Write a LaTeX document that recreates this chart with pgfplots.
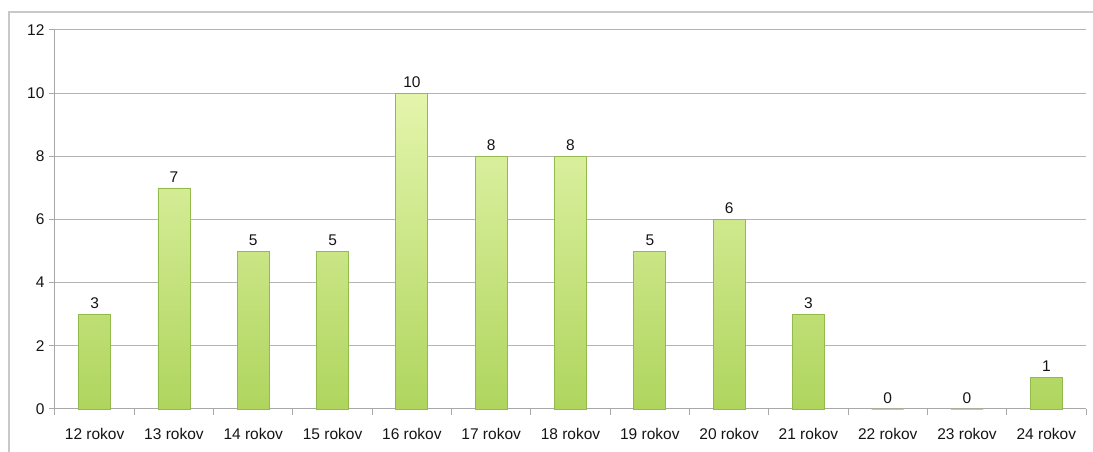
\documentclass[border=0pt]{standalone}
\usepackage{pgfplots}
\pgfplotsset{compat=1.18}
\usepackage{fontspec}
\setmainfont{Liberation Sans}
\definecolor{gridgray}{HTML}{B4B4B4}
\definecolor{axisgray}{HTML}{A8A8A8}
\definecolor{framegray}{HTML}{C8C8C8}
\definecolor{bartop}{HTML}{E4F5AC}
\definecolor{barbot}{HTML}{AFD55E}
\definecolor{baredge}{HTML}{93BA4C}
\definecolor{txt}{HTML}{141414}
\begin{document}
\begin{tikzpicture}
\begin{axis}[
  name=main,
  at={(0pt,0pt)}, anchor=south west,
  scale only axis, width=1031pt, height=379pt,
  xmin=-0.5, xmax=12.5, ymin=0, ymax=12,
  ytick={0,2,...,12},
  xtick={0,...,12},
  xticklabels={12 rokov,13 rokov,14 rokov,15 rokov,16 rokov,17 rokov,18 rokov,19 rokov,20 rokov,21 rokov,22 rokov,23 rokov,24 rokov},
  minor xtick={-0.5,0.5,...,12.5},
  axis x line*=bottom, axis y line*=left,
  axis line style={axisgray, line width=1pt},
  x axis line style={-}, y axis line style={-},
  ymajorgrids, grid style={gridgray, line width=1pt},
  major x tick style={draw=none},
  minor x tick style={axisgray, line width=1pt},
  major y tick style={axisgray, line width=1pt},
  tick align=outside,
  major tick length=6pt, minor tick length=6pt,
  ticklabel style={font=\fontsize{15.5}{18}\selectfont, text=txt},
  /pgf/number format/assume math mode=true,
  yticklabel style={xshift=-1pt},
  xticklabel style={yshift=-10pt},
  ybar, bar width=32pt,
  nodes near coords,
  nodes near coords style={font=\fontsize{15.5}{18}\selectfont, text=txt, yshift=2pt},
  clip=false,
]
\addplot[draw=baredge, line width=0.8pt, top color=bartop, bottom color=barbot]
  coordinates {(0,3) (1,7) (2,5) (3,5) (4,10) (5,8) (6,8) (7,5) (8,6) (9,3) (10,0) (11,0) (12,1)};
\end{axis}
% outer chart frame around the whole chart area
\draw[framegray, line width=1.6pt] (-46pt,-45pt) -- (-46pt,397pt) -- (1040pt,397pt);
\pgfresetboundingbox
\useasboundingbox (-55pt,-43pt) rectangle (1038pt,409pt);
\end{tikzpicture}
\end{document}
